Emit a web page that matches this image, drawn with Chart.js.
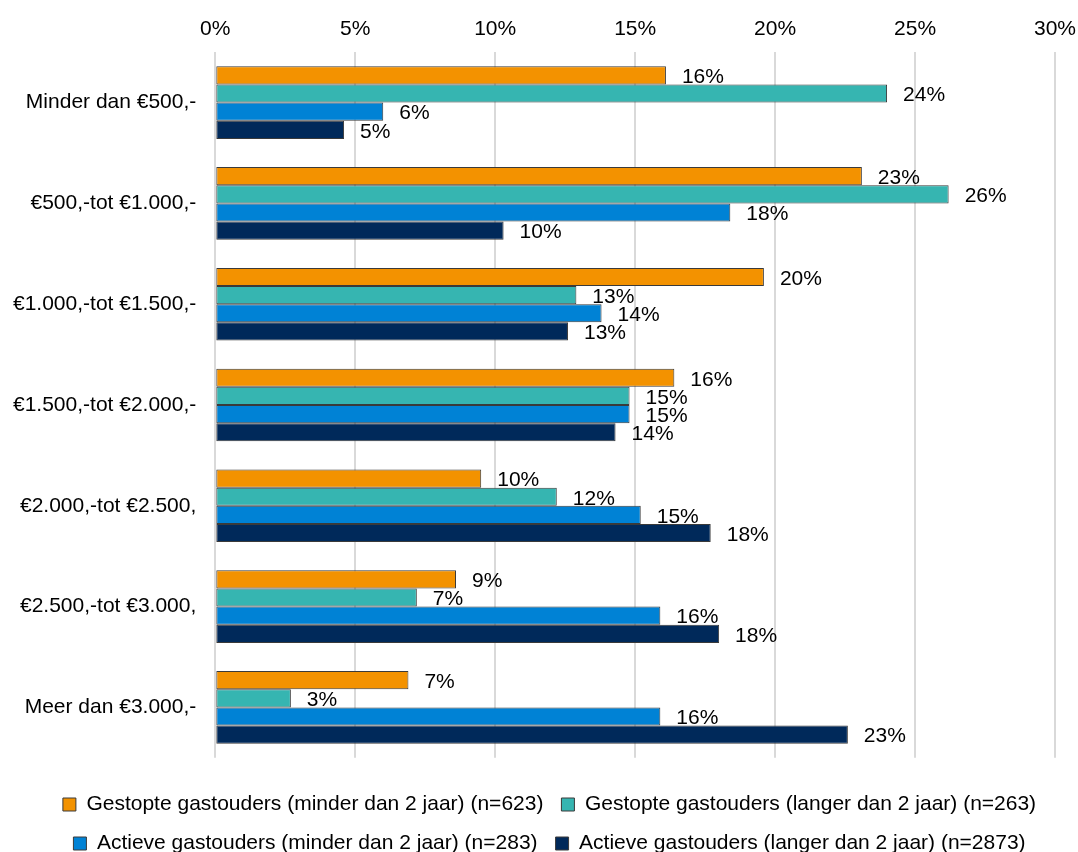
<!DOCTYPE html>
<html>
<head>
<meta charset="utf-8">
<script src="https://cdn.jsdelivr.net/npm/chart.js@4.4.0/dist/chart.umd.min.js"></script>
<style>
  html, body { margin: 0; padding: 0; background: #fff; }
  #wrap { width: 1078px; height: 852px; }
</style>
</head>
<body>
<div id="wrap"><canvas id="myChart"></canvas></div>
<script>
// categorieen (maandinkomen)
const categorieen = [
  'Minder dan €500,-',
  '€500,-tot €1.000,-',
  '€1.000,-tot €1.500,-',
  '€1.500,-tot €2.000,-',
  '€2.000,-tot €2.500,',
  '€2.500,-tot €3.000,',
  'Meer dan €3.000,-'
]

// percentages per groep
const gestoptKort = [16.1, 23.1, 19.6, 16.4, 9.5, 8.6, 6.9]
const gestoptLang = [24.0, 26.2, 12.9, 14.8, 12.2, 7.2, 2.7]
const actiefKort = [6.0, 18.4, 13.8, 14.8, 15.2, 15.9, 15.9]
const actiefLang = [4.6, 10.3, 12.6, 14.3, 17.7, 18.0, 22.6]

const xTicks = [0, 5, 10, 15, 20, 25, 30]

const FONT = '"Liberation Sans", Arial, sans-serif'
const ctx = document.getElementById("myChart")

// labels achter de balken
const labelPlugin = {
  id: 'waardeLabels',
  afterDatasetsDraw(chart) {
    const c = chart.ctx
    c.save()
    c.font = '21px ' + FONT
    c.fillStyle = '#000'
    c.textAlign = 'left'
    c.textBaseline = 'middle'
    chart.data.datasets.forEach((ds, i) => {
      const meta = chart.getDatasetMeta(i)
      meta.data.forEach((bar, j) => {
        c.fillText(Math.round(ds.data[j]) + '%', bar.x + 16, bar.y + 2)
      })
    })
    c.restore()
  }
}

// legenda iets naar rechts (centreren op de hele breedte)
const legendShift = {
  id: 'legendShift',
  afterLayout(chart) {
    chart.legend.left += 25
    chart.legend.right += 25
  }
}

const data = {
  labels: categorieen,
  datasets: [
    { label: 'Gestopte gastouders (minder dan 2 jaar) (n=623)', data: gestoptKort, backgroundColor: '#F39200' },
    { label: 'Gestopte gastouders (langer dan 2 jaar) (n=263)', data: gestoptLang, backgroundColor: '#36B5B1' },
    { label: 'Actieve gastouders (minder dan 2 jaar) (n=283)', data: actiefKort, backgroundColor: '#0082D5' },
    { label: 'Actieve gastouders (langer dan 2 jaar) (n=2873)', data: actiefLang, backgroundColor: '#00295A' }
  ].map(d => Object.assign(d, {
    borderColor: '#3a3a3a',
    borderWidth: 1,
    borderSkipped: false,
    categoryPercentage: 0.72,
    barPercentage: 1.0
  }))
}

const config = {
  type: 'bar',
  data: data,
  options: {
    indexAxis: 'y',
    responsive: true,
    maintainAspectRatio: false,
    animation: false,
    layout: { padding: { left: -6, right: 23, top: 7, bottom: -12 } },
    scales: {
      x: {
        position: 'top',
        min: 0,
        max: 30,
        afterBuildTicks: axis => { axis.ticks = xTicks.map(v => ({ value: v })) },
        afterFit: s => { s.paddingRight = 0; s.paddingLeft = 0 },
        ticks: {
          callback: v => v + '%',
          color: '#000',
          font: { size: 21, family: FONT },
          padding: 10
        },
        grid: { color: '#D9D9D9', lineWidth: 2, drawTicks: false },
        border: { display: false }
      },
      y: {
        ticks: {
          color: '#000',
          font: { size: 21, family: FONT },
          padding: 19
        },
        grid: { display: false, drawTicks: false },
        border: { display: false }
      }
    },
    plugins: {
      tooltip: { enabled: false },
      legend: {
        position: 'bottom',
        title: { display: true, text: ' ', font: { size: 1 }, padding: { top: 0, bottom: 17 } },
        labels: {
          color: '#000',
          font: { size: 21, family: FONT },
          boxWidth: 13,
          boxHeight: 13,
          padding: 18
        }
      }
    }
  },
  plugins: [labelPlugin, legendShift]
}

const myChart = new Chart(ctx, config)
</script>
</body>
</html>
